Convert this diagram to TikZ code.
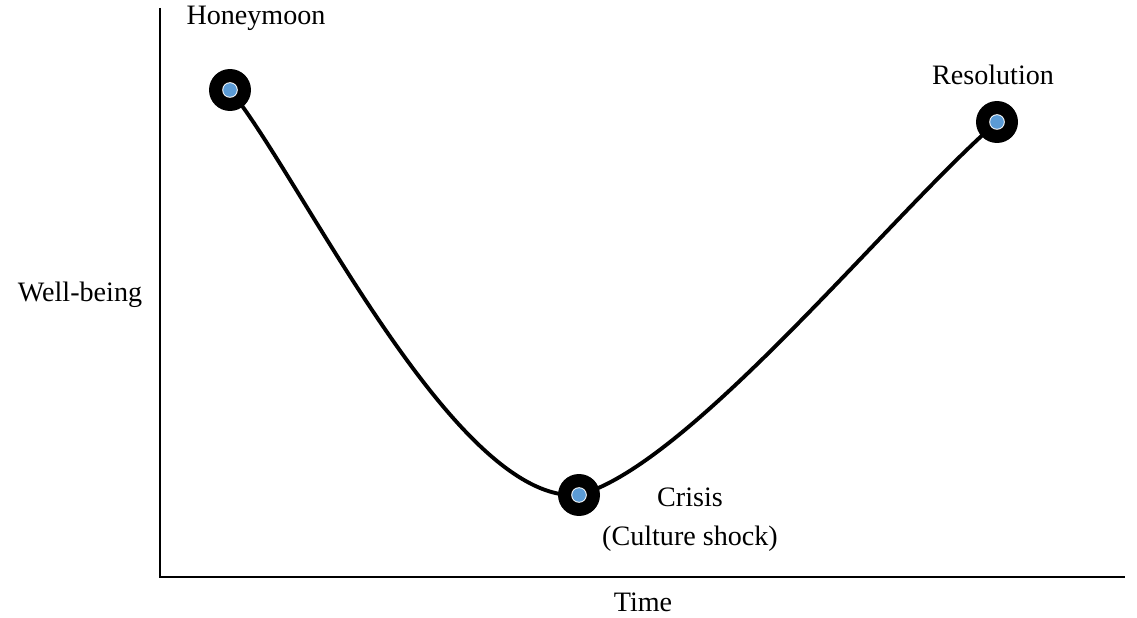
\documentclass[tikz,border=0pt]{standalone}
\usepackage{fontspec}
\setmainfont{Liberation Serif}
\usepgflibrary{arrows.meta}
\usepackage{xcolor}
\definecolor{dotblue}{RGB}{91,155,213}

\begin{document}
\begin{tikzpicture}[x=0.02cm,y=0.02cm,font=\fontsize{16}{19}\selectfont,
  stage/.style={circle,fill=black,inner sep=0pt,minimum size=0.84cm,
    path picture={\fill[white] (path picture bounding box.center) circle (7.8);
      \fill[dotblue] (path picture bounding box.center) circle (6.8);}}]
\useasboundingbox (0,0) rectangle (1137,-618);

  % axes
  \coordinate (top) at (160,-8);
  \coordinate (origin) at (160,-577);
  \coordinate (right) at (1125,-577);
  \draw[line width=1.2pt] (top) -- (origin) -- (right);
  \node (wb) at (80,-295) {Well-being};
  \node (time) at (643,-602) {Time};

  % stages
  \coordinate (h) at (230,-90);
  \coordinate (c) at (579,-495);
  \coordinate (r) at (997,-122);
  \draw[line width=2.2pt] (h) .. controls (300,-175) and (455,-505) .. (c)
    .. controls (690,-465) and (890,-215) .. (r);
  \node[stage] (honey) at (h) {};
  \node[stage] (crisis) at (c) {};
  \node[stage] (resol) at (r) {};

  \node (honeylbl) at (256,-18) {Honeymoon};
  \node (resollbl) at (993,-75) {Resolution};
  \node[align=center] (crisislbl) at (690,-520) {Crisis\\[3pt](Culture shock)};
\end{tikzpicture}
\end{document}
